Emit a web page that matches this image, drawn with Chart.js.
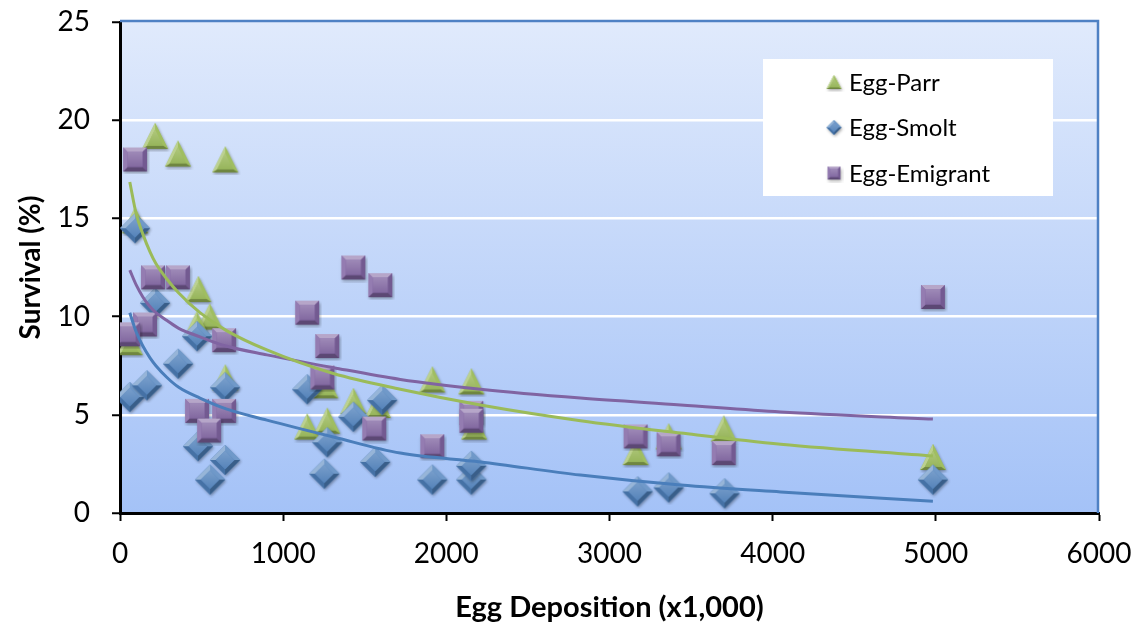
<!DOCTYPE html>
<html>
<head>
<meta charset="utf-8">
<script src="https://cdn.jsdelivr.net/npm/chart.js@4.4.1/dist/chart.umd.min.js"></script>
<style>
  html, body { margin: 0; padding: 0; background: #fff; }
  #wrap { width: 1142px; height: 631px; }
</style>
</head>
<body>
<div id="wrap"><canvas id="survivalChart" width="1142" height="631"></canvas></div>
<script>
// Данные: откладка икры (x1000) и выживаемость (%)
const parrX = [60, 92, 215, 355, 645, 480, 550, 470, 645, 1147, 1270, 1258, 1430, 1580, 1914, 2153, 2170, 3160, 3362, 3700, 4982];
const parrY = [8.7, 14.9, 19.2, 18.3, 18.0, 11.4, 10.0, 9.6, 6.9, 4.4, 4.7, 6.5, 5.7, 5.5, 6.8, 6.7, 4.4, 3.1, 3.9, 4.3, 2.85];

const smoltX = [60, 165, 92, 215, 356, 472, 478, 552, 644, 644, 1147, 1270, 1252, 1430, 1607, 1564, 1914, 2153, 2153, 3172, 3362, 3705, 4982];
const smoltY = [5.9, 6.5, 14.5, 10.7, 7.6, 9.0, 3.4, 1.7, 2.7, 6.4, 6.3, 3.6, 2.0, 4.9, 5.75, 2.6, 1.7, 1.7, 2.4, 1.1, 1.3, 1.0, 1.7];

const emigrantX = [92, 202, 355, 153, 50, 638, 472, 638, 546, 1147, 1270, 1240, 1430, 1595, 1558, 1914, 2153, 2153, 3160, 3362, 3700, 4982];
const emigrantY = [18.0, 12.0, 12.0, 9.6, 9.1, 8.8, 5.2, 5.2, 4.2, 10.2, 8.5, 6.9, 12.5, 11.6, 4.3, 3.4, 5.1, 4.7, 3.9, 3.5, 3.05, 11.0];

// Линии тренда
const trendX = [60, 100, 140, 184, 220, 288, 360, 490, 650, 900, 1308, 1718, 2209, 2822, 3436, 4049, 4982];
const parrTrend = [16.85, 15.2, 14.2, 13.3, 12.7, 11.9, 11.2, 10.2, 9.3, 8.3, 7.1, 6.3, 5.5, 4.7, 4.07, 3.5, 2.9];
const emigrantTrend = [12.37, 11.6, 11.0, 10.5, 10.2, 9.8, 9.4, 8.97, 8.5, 8.05, 7.4, 6.8, 6.3, 5.85, 5.5, 5.14, 4.78];
const smoltTrend = [10.2, 9.2, 8.5, 7.9, 7.5, 6.9, 6.4, 5.85, 5.3, 4.73, 3.87, 3.05, 2.6, 1.93, 1.42, 1.07, 0.6];

const seriesNames = ['Egg-Parr', 'Egg-Smolt', 'Egg-Emigrant'];
const xTicks = [0, 1000, 2000, 3000, 4000, 5000, 6000];
const yTicks = [0, 5, 10, 15, 20, 25];

const toPoints = (xs, ys) => xs.map((x, i) => ({ x: x, y: ys[i] }));

// Осветлить / затемнить цвет
function shade(rgb, k) {
    const t = k > 0 ? 255 : 0;
    const a = Math.abs(k);
    return 'rgb(' + rgb.map(c => Math.round(c + (t - c) * a)).join(',') + ')';
}

// Маркер "с фаской", как в Excel
function makeMarker(shape, w, h, rgb) {
    const pad = 3;
    const c = document.createElement('canvas');
    c.width = w + pad * 2;
    c.height = h + pad * 2;
    const g = c.getContext('2d');
    const cx = c.width / 2, cy = c.height / 2;
    let pts;
    if (shape === 'square') {
        pts = [[pad, pad], [pad + w, pad], [pad + w, pad + h], [pad, pad + h]];
    } else if (shape === 'diamond') {
        pts = [[cx, pad], [pad + w, cy], [cx, pad + h], [pad, cy]];
    } else {
        pts = [[cx, pad], [pad + w, pad + h], [pad, pad + h]];
    }
    const ccx = pts.reduce((s, p) => s + p[0], 0) / pts.length;
    const ccy = pts.reduce((s, p) => s + p[1], 0) / pts.length;
    const inner = pts.map(p => [ccx + (p[0] - ccx) * 0.62, ccy + (p[1] - ccy) * 0.62]);

    g.save();
    g.shadowColor = 'rgba(0,0,0,0.35)';
    g.shadowBlur = 3;
    g.shadowOffsetX = 1;
    g.shadowOffsetY = 1.5;
    g.beginPath();
    pts.forEach((p, i) => i ? g.lineTo(p[0], p[1]) : g.moveTo(p[0], p[1]));
    g.closePath();
    g.fillStyle = shade(rgb, 0);
    g.fill();
    g.restore();

    for (let i = 0; i < pts.length; i++) {
        const a = pts[i], b = pts[(i + 1) % pts.length];
        const ia = inner[i], ib = inner[(i + 1) % pts.length];
        const nx = b[1] - a[1], ny = -(b[0] - a[0]);
        const len = Math.hypot(nx, ny);
        const dot = (nx / len) * -0.35 + (ny / len) * -0.94;
        g.beginPath();
        g.moveTo(a[0], a[1]); g.lineTo(b[0], b[1]); g.lineTo(ib[0], ib[1]); g.lineTo(ia[0], ia[1]);
        g.closePath();
        g.fillStyle = shade(rgb, dot > 0 ? dot * 0.45 : dot * 0.3);
        g.fill();
    }
    const grad = g.createLinearGradient(0, pad, 0, pad + h);
    grad.addColorStop(0, shade(rgb, 0.3));
    grad.addColorStop(1, shade(rgb, -0.05));
    g.beginPath();
    inner.forEach((p, i) => i ? g.lineTo(p[0], p[1]) : g.moveTo(p[0], p[1]));
    g.closePath();
    g.fillStyle = grad;
    g.fill();
    return c;
}

const green = [155, 187, 89];
const blue = [79, 129, 189];
const purple = [128, 100, 162];

const parrMarker = makeMarker('triangle', 26, 26, green);
const smoltMarker = makeMarker('diamond', 30, 30, blue);
const emigrantMarker = makeMarker('square', 24, 24, purple);
const legendMarkers = [
    makeMarker('triangle', 15, 14, green),
    makeMarker('diamond', 15, 15, blue),
    makeMarker('square', 13, 13, purple)
];

// Фон области построения и рамка
const plotBackground = {
    id: 'plotBackground',
    beforeDraw(chart) {
        const { ctx, chartArea: a } = chart;
        const grad = ctx.createLinearGradient(0, a.top, 0, a.bottom);
        grad.addColorStop(0, '#e0eafc');
        grad.addColorStop(1, '#a4c2f7');
        ctx.save();
        ctx.fillStyle = grad;
        ctx.fillRect(a.left, a.top, a.right - a.left, a.bottom - a.top);
        ctx.restore();
    },
    afterDraw(chart) {
        const { ctx, chartArea: a } = chart;
        ctx.save();
        ctx.strokeStyle = '#4f81c4';
        ctx.lineWidth = 2.5;
        ctx.beginPath();
        ctx.moveTo(a.left, a.top - 1);
        ctx.lineTo(a.right - 1, a.top - 1);
        ctx.lineTo(a.right - 1, a.bottom);
        ctx.stroke();
        ctx.restore();
    }
};

// Легенда внутри графика
const boxLegend = {
    id: 'boxLegend',
    afterDraw(chart) {
        const ctx = chart.ctx;
        ctx.save();
        ctx.fillStyle = '#ffffff';
        ctx.fillRect(763, 59, 290, 137);
        ctx.font = '24px Lato';
        ctx.fillStyle = '#000';
        ctx.textBaseline = 'middle';
        seriesNames.forEach((name, i) => {
            const y = 82 + i * 45.5;
            const m = legendMarkers[i];
            ctx.drawImage(m, 834 - m.width / 2, y - m.height / 2);
            ctx.fillText(name, 849, y + 1);
        });
        ctx.restore();
    }
};

const ctx = document.getElementById('survivalChart').getContext('2d');

new Chart(ctx, {
    type: 'scatter',
    data: {
        datasets: [
            {
                label: 'Egg-Parr trend', type: 'line', data: toPoints(trendX, parrTrend),
                borderColor: '#9bbb59', borderWidth: 3, pointRadius: 0, fill: false,
                cubicInterpolationMode: 'monotone', order: 0
            },
            {
                label: 'Egg-Smolt trend', type: 'line', data: toPoints(trendX, smoltTrend),
                borderColor: '#4a7ebb', borderWidth: 3, pointRadius: 0, fill: false,
                cubicInterpolationMode: 'monotone', order: 0
            },
            {
                label: 'Egg-Emigrant trend', type: 'line', data: toPoints(trendX, emigrantTrend),
                borderColor: '#8064a2', borderWidth: 3, pointRadius: 0, fill: false,
                cubicInterpolationMode: 'monotone', order: 0
            },
            {
                label: seriesNames[0], data: toPoints(parrX, parrY),
                pointStyle: parrMarker, order: 3
            },
            {
                label: seriesNames[1], data: toPoints(smoltX, smoltY),
                pointStyle: smoltMarker, order: 2
            },
            {
                label: seriesNames[2], data: toPoints(emigrantX, emigrantY),
                pointStyle: emigrantMarker, order: 1
            }
        ]
    },
    options: {
        responsive: false,
        animation: false,
        devicePixelRatio: 1,
        layout: { padding: { top: 22, right: 43, left: 0, bottom: 0 } },
        plugins: {
            legend: { display: false },
            tooltip: { enabled: false }
        },
        scales: {
            x: {
                type: 'linear',
                min: 0,
                max: 6000,
                afterBuildTicks: scale => { scale.ticks = xTicks.map(v => ({ value: v })); },
                afterFit: scale => {
                    scale.height = 118;
                    scale.paddingLeft = 0;
                    scale.paddingRight = 0;
                },
                border: { color: '#000', width: 3 },
                grid: { drawOnChartArea: false, color: '#000', tickColor: '#000', tickLength: 8, tickWidth: 2 },
                ticks: {
                    color: '#000', font: { family: 'Lato', size: 28 }, padding: 16, maxRotation: 0,
                    callback: v => String(v)
                },
                title: {
                    display: true, text: 'Egg Deposition (x1,000)', color: '#000',
                    font: { family: 'Lato', size: 29, weight: 'bold' }, padding: { top: 10, bottom: 6 }
                }
            },
            y: {
                min: 0,
                max: 25,
                afterBuildTicks: scale => { scale.ticks = yTicks.map(v => ({ value: v })); },
                afterFit: scale => {
                    scale.width = 120;
                    scale.paddingTop = 0;
                    scale.paddingBottom = 0;
                },
                border: { color: '#000', width: 3 },
                grid: {
                    color: c => (c.tick && (c.tick.value === 0 || c.tick.value === 25)) ? 'rgba(0,0,0,0)' : '#ffffff',
                    lineWidth: 2.5, tickColor: '#000', tickLength: 8, tickWidth: 2
                },
                ticks: { color: '#000', font: { family: 'Lato', size: 28 }, padding: 22, callback: v => String(v) },
                title: {
                    display: true, text: 'Survival (%)', color: '#000',
                    font: { family: 'Lato', size: 28, weight: 'bold' }, padding: { top: 14, bottom: 0 }
                }
            }
        }
    },
    plugins: [plotBackground, boxLegend]
});
</script>
</body>
</html>
